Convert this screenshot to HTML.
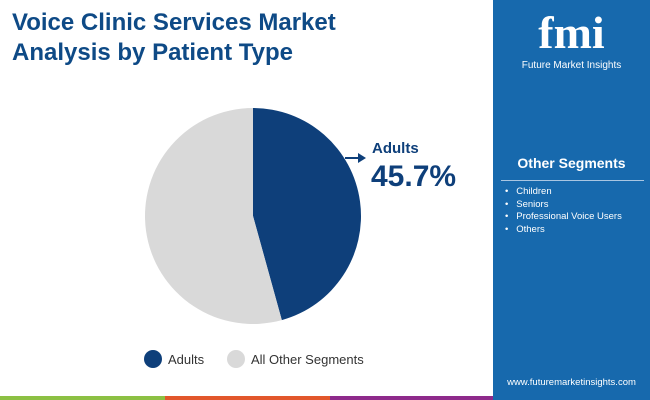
<!DOCTYPE html>
<html><head><meta charset="utf-8"><style>
body{margin:0;width:650px;height:400px;overflow:hidden;background:#fff;font-family:"Liberation Sans",sans-serif;position:relative}
.abs{position:absolute}
</style></head><body>
<div class="abs" style="left:12px;top:8px;font-size:24px;font-weight:bold;color:#0e4a86;line-height:30px">Voice Clinic Services Market<br>Analysis by Patient Type</div>
<div class="abs" style="left:493px;top:0;width:157px;height:400px;background:#1769ad">
  <div style="position:absolute;left:0;top:8px;width:157px;text-align:center;color:#fff;font-size:46px;font-weight:bold;font-family:'Liberation Serif',serif;line-height:50px">fmi</div>
  <div style="position:absolute;left:0;top:60px;width:157px;text-align:center;color:#fff;font-size:10px">Future Market Insights</div>
  <div style="position:absolute;left:0;top:155px;width:157px;text-align:center;color:#fff;font-size:14px;font-weight:bold">Other Segments</div>
  <div class="abs" style="left:8px;top:180px;width:143px;height:1px;background:#a9c6e2"></div>
  <div style="position:absolute;left:12px;top:186px;color:#fff;font-size:9.5px;line-height:12.5px">
    <div>•&nbsp;&nbsp;&nbsp;Children</div><div>•&nbsp;&nbsp;&nbsp;Seniors</div><div>•&nbsp;&nbsp;&nbsp;Professional Voice Users</div><div>•&nbsp;&nbsp;&nbsp;Others</div>
  </div>
  <div style="position:absolute;left:0;top:377px;width:157px;text-align:center;color:#fff;font-size:9.5px">www.futuremarketinsights.com</div>
</div>
<div class="abs" style="left:0;top:396px;width:165px;height:4px;background:#8cc043"></div>
<div class="abs" style="left:165px;top:396px;width:165px;height:4px;background:#e2572b"></div>
<div class="abs" style="left:330px;top:396px;width:163px;height:4px;background:#8e2a8b"></div>
<svg class="abs" style="left:0;top:0" width="493" height="400">
<g id="pie"></g>
<line x1="345" y1="158" x2="360" y2="158" stroke="#0e3f7a" stroke-width="2"/>
<polygon points="358,153 366,158 358,163" fill="#0e3f7a"/>
<text x="372" y="153" font-size="15" font-weight="bold" fill="#0e3f7a">Adults</text>
<text x="371" y="186" font-size="30" font-weight="bold" fill="#0e3f7a">45.7%</text>
<circle cx="153" cy="359" r="9" fill="#0e3f7a"/>
<text x="168" y="364" font-size="13" fill="#333">Adults</text>
<circle cx="236" cy="359" r="9" fill="#d9d9d9"/>
<text x="251" y="364" font-size="13" fill="#333">All Other Segments</text>
</svg>
<script>
const categories=["Adults","All Other Segments"];
const values=[45.7,54.3];
const colors=["#0e3f7a","#d9d9d9"];
const g=document.getElementById('pie');
const cx=253,cy=216,r=108;
const total=values.reduce((a,b)=>a+b,0);
let a0=-Math.PI/2;
values.forEach((v,i)=>{
  const a1=a0+v/total*2*Math.PI;
  const p=document.createElementNS('http://www.w3.org/2000/svg','path');
  const large=(a1-a0)>Math.PI?1:0;
  p.setAttribute('d',`M${cx},${cy}L${cx+r*Math.cos(a0)},${cy+r*Math.sin(a0)}A${r},${r} 0 ${large} 1 ${cx+r*Math.cos(a1)},${cy+r*Math.sin(a1)}Z`);
  p.setAttribute('fill',colors[i]);
  
  
  g.appendChild(p);
  a0=a1;
});
</script>
</body></html>
